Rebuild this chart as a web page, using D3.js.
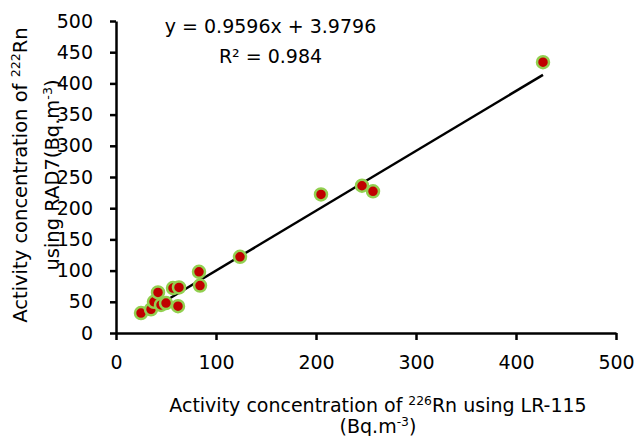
<!DOCTYPE html>
<html>
<head>
<meta charset="utf-8">
<script src="https://cdn.jsdelivr.net/npm/d3@7"></script>
<style>
  html, body { margin: 0; padding: 0; background: #fff; }
  svg text { font-family: "DejaVu Sans", sans-serif; fill: #000; }
</style>
</head>
<body>
<svg id="chart" width="636" height="436"></svg>
<script>
// Data
const lr115 = [25, 35, 38, 42, 45, 50, 57, 63, 62, 83, 84, 124, 205, 246, 257, 427];
const rad7  = [32, 38, 50, 65, 45, 48, 72, 73, 43, 98, 76, 122, 222, 236, 227, 434];
const xTicks = [0, 100, 200, 300, 400, 500];
const yTicks = [0, 50, 100, 150, 200, 250, 300, 350, 400, 450, 500];
const trend = { slope: 0.9596, intercept: 3.9796 };
const equationText = "y = 0.9596x + 3.9796";
const r2Text = "R² = 0.984";

const svg = d3.select("#chart");
const W = 636, H = 436;
const margin = { left: 116, right: 20, top: 21, bottom: 103 };
const x = d3.scaleLinear().domain([0, 500]).range([margin.left, W - margin.right]);
const y = d3.scaleLinear().domain([0, 500]).range([H - margin.bottom, margin.top]);

const fs = 19;

// Axes
const xAxis = svg.append("g")
  .attr("transform", `translate(0,${y(0)})`)
  .call(d3.axisBottom(x).tickValues(xTicks).tickSize(7).tickSizeOuter(0).tickPadding(16));
const yAxis = svg.append("g")
  .attr("transform", `translate(${x(0)},0)`)
  .call(d3.axisLeft(y).tickValues(yTicks).tickSize(6).tickSizeOuter(0).tickPadding(17));

[xAxis, yAxis].forEach(g => {
  g.select(".domain").attr("stroke", "#000").attr("stroke-width", 2.5);
  g.selectAll(".tick line").attr("stroke", "#000").attr("stroke-width", 2.5);
  g.selectAll(".tick text").attr("font-size", fs).attr("font-family", "DejaVu Sans, sans-serif").attr("fill", "#000");
});
xAxis.selectAll(".tick text").attr("dy", "0.71em");

// Trendline
const xmin = d3.min(lr115), xmax = d3.max(lr115);
svg.append("line")
  .attr("x1", x(xmin)).attr("y1", y(trend.slope * xmin + trend.intercept))
  .attr("x2", x(xmax)).attr("y2", y(trend.slope * xmax + trend.intercept))
  .attr("stroke", "#000").attr("stroke-width", 2.5);

// Points
const pts = lr115.map((v, i) => ({ x: v, y: rad7[i] }));
svg.append("g").selectAll("circle")
  .data(pts).join("circle")
  .attr("cx", d => x(d.x)).attr("cy", d => y(d.y))
  .attr("r", 6)
  .attr("fill", "#C00000")
  .attr("stroke", "#92D050")
  .attr("stroke-width", 2.5);

// Trendline labels
svg.append("text").attr("x", 270.5).attr("y", 33).attr("text-anchor", "middle")
  .attr("font-size", fs).text(equationText);
svg.append("text").attr("x", 270.5).attr("y", 63).attr("text-anchor", "middle")
  .attr("font-size", fs).text(r2Text);

// X axis title
const xt = svg.append("text").attr("x", 378).attr("y", 412).attr("text-anchor", "middle").attr("font-size", fs);
xt.append("tspan").text("Activity concentration of ");
xt.append("tspan").attr("font-size", fs * 0.65).attr("dy", -7).text("226");
xt.append("tspan").attr("dy", 7).text("Rn using LR-115");
const xt2 = svg.append("text").attr("x", 378).attr("y", 433).attr("text-anchor", "middle").attr("font-size", fs);
xt2.append("tspan").text("(Bq.m");
xt2.append("tspan").attr("font-size", fs * 0.65).attr("dy", -7).text("-3");
xt2.append("tspan").attr("dy", 7).text(")");

// Y axis title (two lines)
const cy = 175;
const yfs = 19.5;
const yt1 = svg.append("text").attr("transform", `translate(27,${cy}) rotate(-90)`)
  .attr("text-anchor", "middle").attr("font-size", yfs);
yt1.append("tspan").text("Activity concentration of ");
yt1.append("tspan").attr("font-size", yfs * 0.65).attr("dy", -7).text("222");
yt1.append("tspan").attr("dy", 7).text("Rn");
const yt2 = svg.append("text").attr("transform", `translate(59,${cy}) rotate(-90)`)
  .attr("text-anchor", "middle").attr("font-size", yfs);
yt2.append("tspan").text("using RAD7(Bq.m");
yt2.append("tspan").attr("font-size", yfs * 0.65).attr("dy", -7).text("-3");
yt2.append("tspan").attr("dy", 7).text(")");
</script>
</body>
</html>
